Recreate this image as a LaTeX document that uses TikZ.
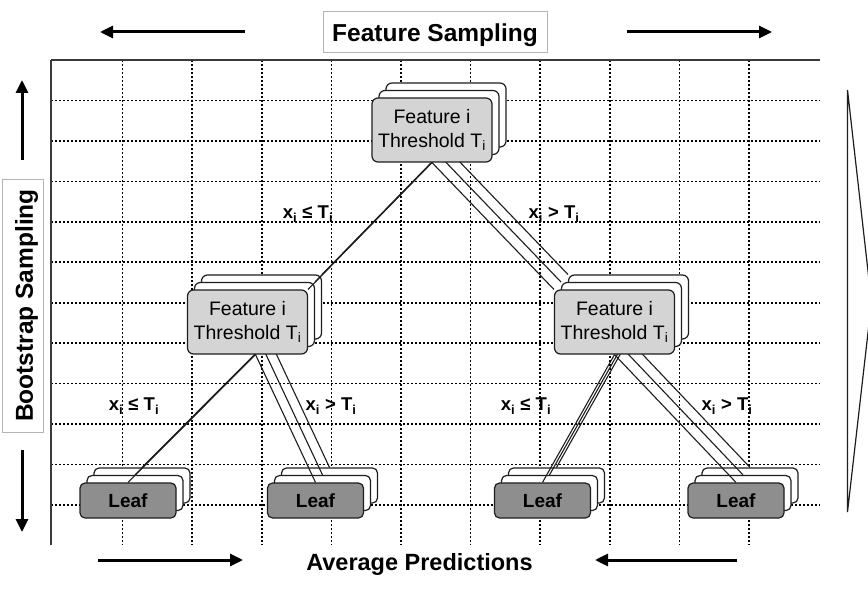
\documentclass[tikz,border=0pt]{standalone}
\usepackage{fontspec}
\setmainfont{Liberation Sans}
\usetikzlibrary{arrows.meta,calc}
\definecolor{featgray}{HTML}{D4D4D4}
\definecolor{leafgray}{HTML}{8E8E8E}
\definecolor{ink}{HTML}{1E1E1E}
\definecolor{framec}{HTML}{3A3A3A}
\definecolor{capframe}{HTML}{B4B4B4}
\tikzset{
  featbox/.style={draw=ink, line width=1.2pt, rounded corners=6pt, fill=featgray,
    minimum width=120pt, minimum height=64pt, inner sep=0pt, align=center,
    font=\fontsize{19.5}{24}\selectfont},
  featback/.style={featbox, fill=white},
  leafbox/.style={draw=ink, line width=1.2pt, rounded corners=5pt, fill=leafgray,
    minimum width=96pt, minimum height=35pt, inner sep=0pt,
    font=\bfseries\fontsize{19}{20}\selectfont},
  leafback/.style={leafbox, fill=white},
  edgeline/.style={draw=ink, line width=1.1pt},
  lbl/.style={font=\bfseries\fontsize{18.5}{20}\selectfont, inner sep=1pt},
  gridline/.style={draw=black, line width=1.6pt, dash pattern=on 2pt off 2pt},
  bigarrow/.style={draw=black, line width=3pt, -{Triangle[length=13pt,width=12pt]}},
  capbox/.style={draw=capframe, line width=0.9pt, inner sep=0pt,
    text height=20.6pt, text depth=0pt,
    font=\bfseries\fontsize{24.5}{28}\selectfont},
  frameline/.style={draw=framec, line width=1.5pt},
}
\newcommand\backlayer[1]{%
  \pgfmathsetmacro\ddx{7*#1}%
  \pgfmathsetmacro\ddy{7.5*#1}%
  \node[featback] (t#1) at (432+\ddx,130-\ddy) {};
  \node[featback] (ml#1) at (247.5+\ddx,322-\ddy) {};
  \node[featback] (mr#1) at (614.5+\ddx,322-\ddy) {};
  \node[leafback] (la#1) at (128+\ddx,500.5-\ddy) {};
  \node[leafback] (lb#1) at (315.5+\ddx,500.5-\ddy) {};
  \node[leafback] (lc#1) at (542.5+\ddx,500.5-\ddy) {};
  \node[leafback] (ld#1) at (736+\ddx,500.5-\ddy) {};
}
\newcommand\layeredges[1]{%
  \draw[edgeline] (t#1.south) -- (ml#1.north east);
  \draw[edgeline] (t#1.south) -- (mr#1.north west);
  \draw[edgeline] ($(ml#1.south)+(8,0)$) -- (la#1.north);
  \draw[edgeline] ($(ml#1.south)+(8,0)$) -- (lb#1.north);
  \draw[edgeline] (mr#1.south) -- (lc#1.north);
  \draw[edgeline] (mr#1.south) -- (ld#1.north);
}
\begin{document}
\begin{tikzpicture}[x=1pt,y=-1pt]
\useasboundingbox (0,0) rectangle (868,591);
\clip (0,0) rectangle (868,591);
\fill[white] (0,0) rectangle (868,591);

% grid
\foreach \i in {0,...,9}
  \draw[gridline] (122.5+69.6*\i,60) -- (122.5+69.6*\i,545);
\foreach \j in {1,...,11}
  \draw[gridline] (51,60+40.45*\j) -- (820,60+40.45*\j);
\draw[frameline] (51,60) -- (820,60);
\draw[frameline] (51,60) -- (51,545);

% right wedge
\draw[draw=ink, line width=1.2pt] (847.5,90) -- (871.5,302) -- (847.5,512) -- cycle;

% stacked layers
\backlayer{2}
\layeredges{2}
\backlayer{1}
\layeredges{1}

\node[featbox] (t0) at (432,130) {Feature i\\Threshold T\textsubscript{i}};
\node[featbox] (ml0) at (247.5,322) {Feature i\\Threshold T\textsubscript{i}};
\node[featbox] (mr0) at (614.5,322) {Feature i\\Threshold T\textsubscript{i}};
\node[leafbox] (la0) at (128,500.5) {Leaf};
\node[leafbox] (lb0) at (315.5,500.5) {Leaf};
\node[leafbox] (lc0) at (542.5,500.5) {Leaf};
\node[leafbox] (ld0) at (736,500.5) {Leaf};
\layeredges{0}

% branch labels
\node[lbl] (b1) at (308,214) {x\textsubscript{i} ≤ T\textsubscript{i}};
\node[lbl] (b2) at (554,214) {x\textsubscript{i} > T\textsubscript{i}};
\node[lbl] (b3) at (134,406) {x\textsubscript{i} ≤ T\textsubscript{i}};
\node[lbl] (b4) at (331,406) {x\textsubscript{i} > T\textsubscript{i}};
\node[lbl] (b5) at (526,406) {x\textsubscript{i} ≤ T\textsubscript{i}};
\node[lbl] (b6) at (727,406) {x\textsubscript{i} > T\textsubscript{i}};

% captions
\node[capbox, minimum width=224pt, minimum height=41pt] (fs) at (435,31.5) {Feature Sampling};
\node[capbox, minimum width=253pt, minimum height=41pt, rotate=90] (bs) at (22.5,305.5) {Bootstrap Sampling};
\node[font=\bfseries\fontsize{23.5}{28}\selectfont, inner sep=0pt] (ap) at (419.5,564) {Average Predictions};

% arrows
\coordinate (a1s) at (245,32); \coordinate (a1e) at (100,32);
\coordinate (a2s) at (627,32); \coordinate (a2e) at (772,32);
\coordinate (a3s) at (22,160); \coordinate (a3e) at (22,80);
\coordinate (a4s) at (22,450); \coordinate (a4e) at (22,532);
\coordinate (a5s) at (98,560); \coordinate (a5e) at (243,560);
\coordinate (a6s) at (737,560); \coordinate (a6e) at (595,560);
\draw[bigarrow] (a1s) -- (a1e);
\draw[bigarrow] (a2s) -- (a2e);
\draw[bigarrow] (a3s) -- (a3e);
\draw[bigarrow] (a4s) -- (a4e);
\draw[bigarrow] (a5s) -- (a5e);
\draw[bigarrow] (a6s) -- (a6e);
\end{tikzpicture}
\end{document}
